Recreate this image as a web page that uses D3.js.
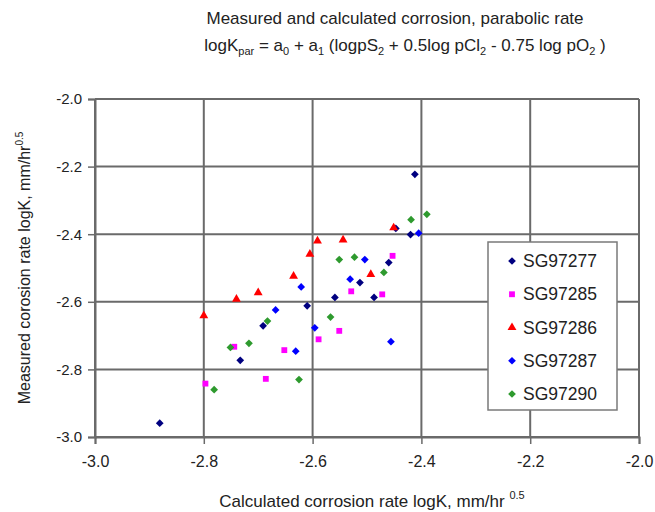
<!DOCTYPE html>
<html>
<head>
<meta charset="utf-8">
<script src="https://cdn.jsdelivr.net/npm/d3@7"></script>
<style>
  body { margin: 0; background: #fff; }
  svg { font-family: "Liberation Sans", Arial, sans-serif; }
</style>
</head>
<body>
<svg id="chart" width="655" height="512"></svg>
<script>
// data: [calculated, measured]
const sg97277 = [[-2.881,-2.959],[-2.733,-2.773],[-2.691,-2.671],[-2.610,-2.612],[-2.559,-2.587],
                 [-2.513,-2.543],[-2.487,-2.587],[-2.460,-2.484],[-2.447,-2.383],[-2.420,-2.401],[-2.412,-2.223]];
const sg97285 = [[-2.797,-2.842],[-2.744,-2.733],[-2.686,-2.828],[-2.652,-2.743],[-2.589,-2.711],
                 [-2.551,-2.686],[-2.529,-2.569],[-2.472,-2.578],[-2.453,-2.464]];
const sg97286 = [[-2.800,-2.641],[-2.740,-2.592],[-2.700,-2.573],[-2.635,-2.524],[-2.605,-2.459],
                 [-2.591,-2.420],[-2.544,-2.417],[-2.493,-2.519],[-2.451,-2.381]];
const sg97287 = [[-2.668,-2.624],[-2.631,-2.746],[-2.621,-2.556],[-2.596,-2.677],[-2.531,-2.533],
                 [-2.504,-2.475],[-2.456,-2.718],[-2.405,-2.397]];
const sg97290 = [[-2.781,-2.860],[-2.751,-2.735],[-2.717,-2.723],[-2.683,-2.657],[-2.625,-2.830],
                 [-2.567,-2.645],[-2.551,-2.475],[-2.523,-2.468],[-2.469,-2.513],[-2.419,-2.357],[-2.390,-2.341]];

const seriesNames = ["SG97277", "SG97285", "SG97286", "SG97287", "SG97290"];
const xTicks = [-3.0, -2.8, -2.6, -2.4, -2.2, -2.0];
const yTicks = [-2.0, -2.2, -2.4, -2.6, -2.8, -3.0];

// square turned on its corner, like the spreadsheet diamond marker
const diamond = {
    draw(ctx, size) {
        let r = Math.sqrt(size / 2);
        ctx.moveTo(0, -r); ctx.lineTo(r, 0); ctx.lineTo(0, r); ctx.lineTo(-r, 0); ctx.closePath();
    }
};

const series = [
    {name: seriesNames[0], data: sg97277, color: "#000080", shape: diamond, size: 30},
    {name: seriesNames[1], data: sg97285, color: "#ff00ff", shape: d3.symbolSquare, size: 34},
    {name: seriesNames[2], data: sg97286, color: "#ff0000", shape: d3.symbolTriangle, size: 34},
    {name: seriesNames[3], data: sg97287, color: "#0000ff", shape: diamond, size: 30},
    {name: seriesNames[4], data: sg97290, color: "#2e9a2e", shape: diamond, size: 30}
];

const svg = d3.select("#chart");
const plotLeft = 95, plotRight = 639, plotTop = 99, plotBottom = 437;
const textColor = "#222";
const gridColor = "#6a6a6a";

let x = d3.scaleLinear().domain([-3, -2]).range([plotLeft, plotRight]);
let y = d3.scaleLinear().domain([-3, -2]).range([plotBottom, plotTop]);

// grid
let grid = svg.append("g");
grid.selectAll("line.v").data(xTicks).join("line")
    .attr("x1", d => x(d)).attr("x2", d => x(d))
    .attr("y1", plotTop).attr("y2", plotBottom)
    .attr("stroke", gridColor).attr("stroke-width", 2);
grid.selectAll("line.h").data(yTicks).join("line")
    .attr("x1", plotLeft).attr("x2", plotRight)
    .attr("y1", d => y(d)).attr("y2", d => y(d))
    .attr("stroke", gridColor).attr("stroke-width", 2);

// axes
let xAxis = svg.append("g")
    .attr("transform", `translate(0,${plotBottom})`)
    .call(d3.axisBottom(x).tickValues(xTicks).tickSizeOuter(0).tickSize(7).tickPadding(12));
let yAxis = svg.append("g")
    .attr("transform", `translate(${plotLeft},0)`)
    .call(d3.axisLeft(y).tickValues(yTicks).tickSizeOuter(0).tickSize(7).tickPadding(6));
[xAxis, yAxis].forEach(a => {
    a.select(".domain").attr("stroke", gridColor).attr("stroke-width", 2);
    a.selectAll(".tick line").attr("stroke", gridColor).attr("stroke-width", 1.5);
    a.selectAll(".tick text").attr("fill", textColor)
        .style("font-family", "'Liberation Sans', Arial, sans-serif")
        .text(d => d.toFixed(1));
});
xAxis.selectAll(".tick text").style("font-size", "16px");
yAxis.selectAll(".tick text").style("font-size", "15px");

// points
series.forEach(s => {
    svg.append("g").selectAll("path").data(s.data).join("path")
        .attr("transform", d => `translate(${x(d[0])},${y(d[1])})`)
        .attr("d", d3.symbol().type(s.shape).size(s.size))
        .attr("fill", s.color);
});

// title
let title = svg.append("g").attr("fill", textColor).style("font-size", "17px");
title.append("text").attr("x", 395).attr("y", 24).attr("text-anchor", "middle")
    .text("Measured and calculated corrosion, parabolic rate");
let t2 = title.append("text").attr("x", 405).attr("y", 51).attr("text-anchor", "middle");
const parts = [["logK", 0], ["par", 1], [" = a", 0], ["0", 1], [" + a", 0], ["1", 1], [" (logpS", 0], ["2", 1],
               [" + 0.5log pCl", 0], ["2", 1], [" - 0.75 log pO", 0], ["2", 1], [" )", 0]];
let shifted = false;
parts.forEach(p => {
    let ts = t2.append("tspan").text(p[0]);
    if (p[1]) ts.style("font-size", "11px");
    if (p[1] && !shifted) { ts.attr("dy", 4); shifted = true; }
    else if (!p[1] && shifted) { ts.attr("dy", -4); shifted = false; }
});

// axis titles
let xt = svg.append("text").attr("x", 372).attr("y", 507).attr("text-anchor", "middle")
    .attr("fill", textColor).style("font-size", "17px");
xt.append("tspan").text("Calculated corrosion rate logK, mm/hr ");
xt.append("tspan").attr("dy", -8).style("font-size", "11px").text("0.5");

let yt = svg.append("text").attr("transform", "translate(30,268) rotate(-90)").attr("text-anchor", "middle")
    .attr("fill", textColor).style("font-size", "16px");
yt.append("tspan").text("Measured corosion rate logK, mm/hr");
yt.append("tspan").attr("dy", -7).style("font-size", "10px").text("0.5");

// legend
let legend = svg.append("g");
legend.append("rect").attr("x", 488).attr("y", 242).attr("width", 129).attr("height", 168)
    .attr("fill", "#fff").attr("stroke", "#7a7a7a").attr("stroke-width", 1.5);
let ly = d3.scalePoint().domain(seriesNames).range([261, 394]);
series.forEach(s => {
    legend.append("path")
        .attr("transform", `translate(512,${ly(s.name)})`)
        .attr("d", d3.symbol().type(s.shape).size(s.size))
        .attr("fill", s.color);
    legend.append("text").attr("x", 523).attr("y", ly(s.name) + 6)
        .attr("fill", textColor).style("font-size", "17.5px").text(s.name);
});
</script>
</body>
</html>
